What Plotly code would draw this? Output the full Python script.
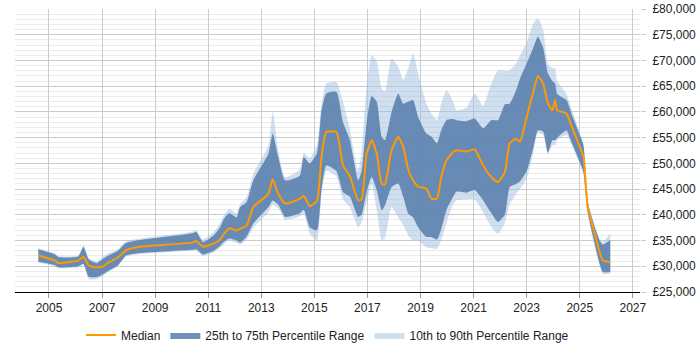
import plotly.graph_objects as go

years = [2004.6, 2005.23, 2005.35, 2006.1, 2006.3, 2006.5, 2006.8, 2007.05, 2007.2, 2007.6,
         2007.9, 2008.3, 2010.4, 2010.55, 2010.8, 2011.2, 2011.45, 2011.6, 2011.8, 2012.07,
         2012.2, 2012.45, 2012.7, 2013.27, 2013.43, 2013.64, 2013.9, 2014.45, 2014.6, 2014.83,
         2015.1, 2015.27, 2015.45, 2015.83, 2016.08, 2016.34, 2016.65, 2016.78, 2016.97, 2017.16,
         2017.35, 2017.54, 2017.66, 2017.91, 2018.16, 2018.35, 2018.54, 2018.72, 2018.91, 2019.22,
         2019.41, 2019.62, 2019.78, 2019.98, 2020.23, 2020.35, 2020.73, 2021.04, 2021.36, 2021.67,
         2021.92, 2022.18, 2022.36, 2022.6, 2022.75, 2023.0, 2023.25, 2023.42, 2023.62, 2023.8,
         2023.97, 2024.07, 2024.15, 2024.5, 2024.7, 2025.1, 2025.15, 2025.3, 2025.5, 2025.75,
         2025.87, 2026.15]

median = [32100, 31100, 30650, 31100, 31800, 30150, 29800, 30000, 30600, 31700,
          33100, 33700, 34600, 34900, 33800, 34400, 35200, 36300, 37400, 36900,
          37300, 37900, 41500, 44100, 46900, 44100, 42200, 43100, 43700, 41650,
          42800, 51250, 56100, 56100, 49600, 47500, 42800, 43000, 51900, 54500,
          51900, 46000, 45900, 52600, 55100, 53200, 48700, 46700, 45500, 45100,
          43150, 43150, 47300, 50600, 52200, 52550, 52300, 52700, 49600, 47300,
          46400, 48300, 53900, 54800, 54200, 59000, 63900, 67000, 65500, 61600,
          60300, 62300, 60300, 59700, 57100, 51900, 51000, 41500, 37600, 32700,
          31100, 30800]

p25 = [30900, 30200, 29800, 30000, 30500, 27900, 27900, 28500, 29000, 30200,
       32100, 32500, 33200, 33300, 32300, 33000, 34000, 34800, 35400, 35000,
       34600, 35800, 38300, 41500, 42800, 42000, 39600, 40300, 41000, 37600,
       37000, 45000, 49600, 48500, 44400, 43500, 39600, 40000, 44500, 47400,
       44800, 40900, 41800, 45400, 46100, 43500, 40200, 39500, 37600, 35700,
       35700, 35200, 37200, 41000, 43500, 44500, 44300, 44800, 42800, 40300,
       38600, 40000, 45400, 46000, 46500, 48500, 53000, 56400, 56200, 52000,
       54500, 54500, 55000, 56400, 54000, 49000, 48000, 40500, 35800, 30500,
       28900, 28900]

p75 = [33300, 32300, 31800, 31900, 33800, 31300, 30600, 31500, 32000, 33000,
       34500, 35000, 36400, 36700, 34700, 36000, 37600, 39300, 40300, 39500,
       41500, 42500, 46700, 51900, 55800, 51250, 46700, 47600, 51250, 50000,
       52000, 60300, 63600, 63900, 58000, 54500, 46700, 48500, 58000, 63100,
       62000, 55100, 54500, 60000, 63600, 61600, 62000, 62300, 59000, 55800,
       55200, 53900, 56500, 58400, 58600, 58400, 58200, 58700, 56800, 58400,
       58400, 61500, 61600, 64200, 66500, 69400, 72500, 74600, 72500, 67500,
       66000, 65500, 63500, 62300, 59500, 54200, 53200, 42500, 38700, 35000,
       34200, 35100]

p10 = [30700, 30000, 29600, 29800, 30300, 27500, 27500, 28200, 28800, 30000,
       31900, 32300, 33000, 33000, 32000, 32700, 33600, 34300, 35000, 34500,
       34200, 35200, 37500, 40500, 42000, 41300, 39000, 39700, 40300, 36300,
       35000, 44000, 48500, 47500, 43000, 41500, 37600, 38500, 42500, 46000,
       41000, 35000, 35500, 41500, 39500, 38000, 36000, 35000, 35000, 33700,
       33500, 33400, 35000, 38500, 42000, 42800, 43000, 43000, 40500, 37600,
       36300, 38500, 42000, 44000, 45000, 47000, 52000, 56000, 55500, 52000,
       53500, 53500, 54500, 55500, 53500, 48500, 47500, 40000, 35200, 30000,
       28500, 28600]

p90 = [33500, 32500, 32000, 32100, 34000, 31600, 31000, 31900, 32400, 33300,
       34800, 35300, 36700, 37000, 35200, 36600, 38400, 40000, 41200, 40300,
       42000, 43500, 48000, 53500, 60000, 52500, 47300, 48800, 52000, 51000,
       53500, 61500, 65500, 65800, 62000, 56500, 48500, 52000, 65000, 71000,
       69800, 64500, 64000, 70400, 68800, 66200, 68500, 71300, 67500, 61600,
       59700, 58400, 61600, 64200, 62000, 60300, 60800, 63600, 61200, 65500,
       68100, 68000, 68100, 69400, 71000, 73500, 77200, 78200, 76000, 69300,
       68500, 68500, 66000, 63500, 60500, 54500, 53500, 42800, 39000, 35300,
       34800, 36300]

light = "rgba(160,192,225,0.5)"
dark = "rgba(86,125,172,0.85)"
shape = dict(shape="spline", smoothing=0.5)

fig = go.Figure()
fig.add_trace(go.Scatter(x=years, y=p10, mode="lines", line=dict(width=0, color=light, **shape),
                         showlegend=False, hoverinfo="skip"))
fig.add_trace(go.Scatter(x=years, y=p90, mode="lines", line=dict(width=0, color=light, **shape),
                         fill="tonexty", fillcolor=light, name="10th to 90th Percentile Range",
                         legendrank=3))
fig.add_trace(go.Scatter(x=years, y=p25, mode="lines", line=dict(width=0, color=dark, **shape),
                         showlegend=False, hoverinfo="skip"))
fig.add_trace(go.Scatter(x=years, y=p75, mode="lines", line=dict(width=0, color=dark, **shape),
                         fill="tonexty", fillcolor=dark, name="25th to 75th Percentile Range",
                         legendrank=2))
fig.add_trace(go.Scatter(x=years, y=median, mode="lines",
                         line=dict(width=2, color="#ff9900", **shape),
                         name="Median", legendrank=1))

fig.update_layout(
    width=700, height=350,
    margin=dict(l=15, r=60, t=9, b=58, autoexpand=False),
    paper_bgcolor="white", plot_bgcolor="white",
    font=dict(family="Liberation Sans, Arial, sans-serif", size=12, color="#222"),
    showlegend=True,
    legend=dict(orientation="h", x=0.5, xanchor="center", y=-0.152, yanchor="middle",
                font=dict(size=12, color="#222"), traceorder="normal"),
    xaxis=dict(range=[2003.72, 2027.27], tick0=2005, dtick=2, showgrid=True,
               gridcolor="#cccccc", gridwidth=1, showline=True, linecolor="#000",
               linewidth=1, ticks="outside", ticklen=5, tickcolor="#999",
               zeroline=False, tickformat="d"),
    yaxis=dict(range=[25000, 80000], side="right", dtick=5000, tickprefix="£",
               tickformat=",d", showgrid=True, gridcolor="#cccccc", gridwidth=1,
               ticks="outside", ticklen=5, tickcolor="#cccccc", zeroline=False,
               showline=False, ticklabelstandoff=4,
               minor=dict(dtick=1000, showgrid=True, gridcolor="#ebebeb", gridwidth=1)),
)

fig.write_html("out.html")
